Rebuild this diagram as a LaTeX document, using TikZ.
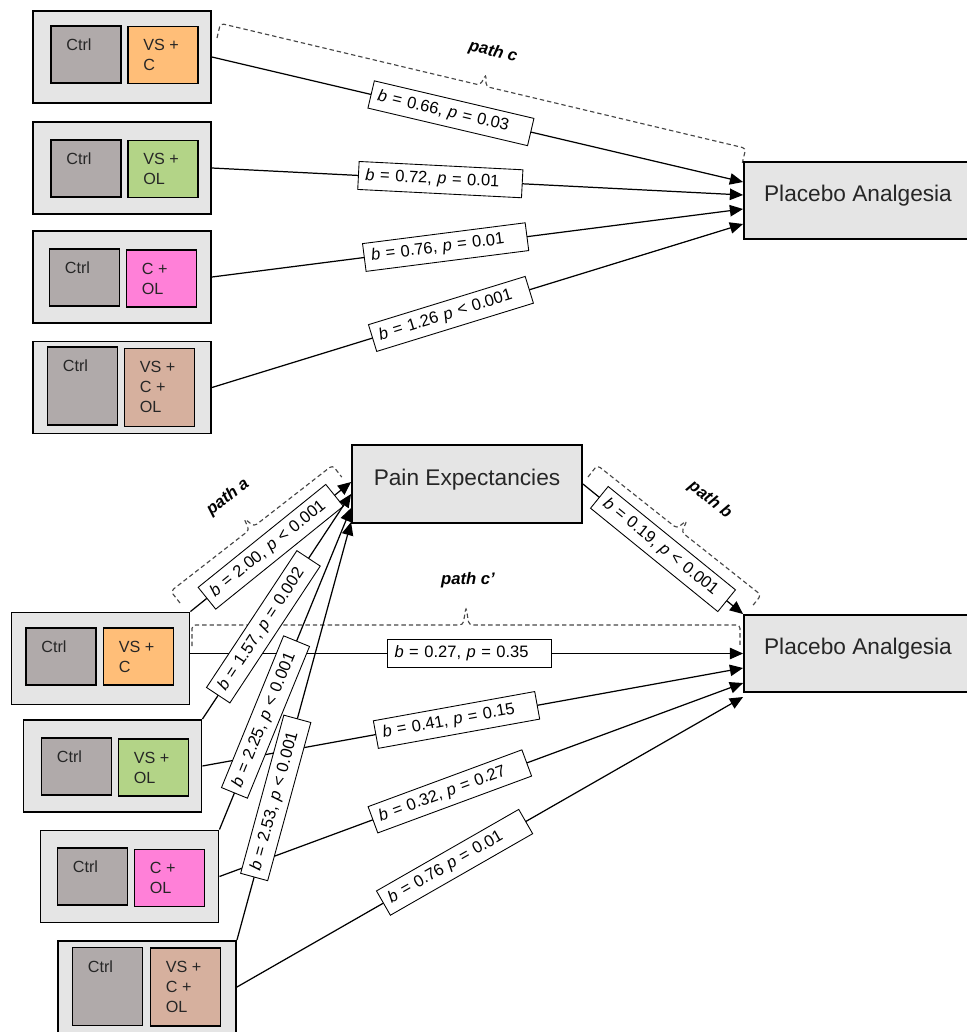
\documentclass[tikz,border=0pt]{standalone}
\usepackage{fontspec}
\setmainfont{Liberation Sans}
\usetikzlibrary{arrows.meta,calc}
\definecolor{boxgray}{RGB}{229,229,229}
\definecolor{ctrlgray}{RGB}{176,170,170}
\definecolor{vscorange}{RGB}{255,190,120}
\definecolor{vsolgreen}{RGB}{179,212,135}
\definecolor{colpink}{RGB}{255,128,216}
\definecolor{allbrown}{RGB}{214,176,158}
\definecolor{bracketgray}{RGB}{70,70,70}
\begin{document}
\begin{tikzpicture}[x=0.02cm, y=-0.02cm,
  group/.style={draw, line width=1.1pt, fill=boxgray, minimum width=3.56cm, minimum height=1.84cm, inner sep=0pt},
  cond/.style={draw, line width=1.1pt, minimum width=1.4cm, minimum height=1.14cm, inner sep=0pt},
  tall/.style={minimum height=1.56cm},
  condtext/.style={anchor=north west, align=left, inner sep=0pt, xshift=0.32cm, yshift=-0.27cm,
    font=\fontsize{9.2}{11.4}\selectfont, text=black!85},
  mainbox/.style={draw, line width=1.1pt, fill=boxgray, minimum width=4.56cm, minimum height=1.54cm,
    font=\fontsize{12.9}{15}\selectfont, text height=9.5pt, text depth=8pt, text=black!85},
  conn/.style={line width=0.7pt, -{Triangle[length=7.5pt, width=6.5pt]}},
  pv/.style={draw, line width=0.5pt, fill=white, sloped, text width=3.0cm, align=left, inner xsep=0.14cm,
    inner ysep=0pt, minimum height=0.56cm, font=\fontsize{9.4}{11}\selectfont},
  bracketline/.style={draw=bracketgray, line width=0.65pt, dash pattern=on 2.5pt off 1.7pt, rounded corners=2pt},
  pathlab/.style={font=\fontsize{9.5}{11}\selectfont\bfseries\itshape}]
\useasboundingbox (0,0) rectangle (967,1032);

% brackets
\draw[bracketline, shift={(217,38)}, rotate=-13.37] (0,0) -- (0,-15) -- (267,-15) -- (270,-27) -- (273,-15) -- (540,-15) -- (540,0);
\draw[bracketline, shift={(180,603)}, rotate=37.9] (0,0) -- (0,-15) -- (99.5,-15) -- (102.5,-28) -- (105.5,-15) -- (205,-15) -- (205,0);
\draw[bracketline, shift={(588,477)}, rotate=-38.4] (0,0) -- (0,-15) -- (101.5,-15) -- (104.5,-28) -- (107.5,-15) -- (209,-15) -- (209,0);
\draw[bracketline, shift={(192,646)}] (0,0) -- (0,-21) -- (271,-21) -- (274,-39) -- (277,-21) -- (548,-21) -- (548,0);
\node[pathlab, rotate=-13.4] (pc) at (493,52) {path c};
\node[pathlab, rotate=37.9] (pa) at (228,497) {path a};
\node[pathlab, rotate=-38.4] (pb) at (710,500) {path b};
\node[pathlab] (pcc) at (468,580) {path c’};

% total effect
\node[group] (g1) at (122,57) {};
\node[cond, fill=ctrlgray, label={[condtext]north west:Ctrl}] (g1c) at (86,54.5) {};
\node[cond, fill=vscorange, label={[condtext]north west:{VS +\\C}}] (g1v) at (163,55) {};
\node[group] (g2) at (122,168) {};
\node[cond, fill=ctrlgray, label={[condtext]north west:Ctrl}] (g2c) at (86,168.5) {};
\node[cond, fill=vsolgreen, label={[condtext]north west:{VS +\\OL}}] (g2v) at (163,169) {};
\node[group] (g3) at (122,277) {};
\node[cond, fill=ctrlgray, label={[condtext]north west:Ctrl}] (g3c) at (84.5,277.5) {};
\node[cond, fill=colpink, label={[condtext]north west:{C +\\OL}}] (g3v) at (161.5,278.5) {};
\node[group] (g4) at (122,387.5) {};
\node[cond, tall, fill=ctrlgray, label={[condtext]north west:Ctrl}] (g4c) at (82.5,386) {};
\node[cond, tall, fill=allbrown, label={[condtext]north west:{VS +\\C +\\OL}}] (g4v) at (159.5,387.5) {};
\node[mainbox] (pa1) at (858,200.5) {Placebo Analgesia};

\draw[conn] (g1.east) -- ($(pa1.west)+(0,-18.5)$) node[pv, pos=0.45] {\textit{b} = 0.66, \textit{p} = 0.03};
\draw[conn] (g2.east) -- ($(pa1.west)+(0,-5.5)$) node[pv, pos=0.43] {\textit{b} = 0.72, \textit{p} = 0.01};
\draw[conn] (g3.east) -- ($(pa1.west)+(0,8.5)$) node[pv, pos=0.44] {\textit{b} = 0.76, \textit{p} = 0.01};
\draw[conn] (g4.east) -- ($(pa1.west)+(0,23.5)$) node[pv, pos=0.45] {\textit{b} = 1.26 \textit{p} < 0.001};

% mediation
\node[group] (b1) at (100.5,658.5) {};
\node[cond, fill=ctrlgray, label={[condtext]north west:Ctrl}] (b1c) at (61,656.5) {};
\node[cond, fill=vscorange, label={[condtext]north west:{VS +\\C}}] (b1v) at (138.5,656.5) {};
\node[group] (b2) at (112.5,766) {};
\node[cond, fill=ctrlgray, label={[condtext]north west:Ctrl}] (b2c) at (76.5,766.5) {};
\node[cond, fill=vsolgreen, label={[condtext]north west:{VS +\\OL}}] (b2v) at (153.5,767.5) {};
\node[group] (b3) at (129.5,876.5) {};
\node[cond, fill=ctrlgray, label={[condtext]north west:Ctrl}] (b3c) at (92.5,876.5) {};
\node[cond, fill=colpink, label={[condtext]north west:{C +\\OL}}] (b3v) at (169.5,878) {};
\node[group] (b4) at (147,987) {};
\node[cond, tall, fill=ctrlgray, label={[condtext]north west:Ctrl}] (b4c) at (107.5,986.5) {};
\node[cond, tall, fill=allbrown, label={[condtext]north west:{VS +\\C +\\OL}}] (b4v) at (185.5,987) {};
\node[mainbox, minimum width=4.6cm, minimum height=1.56cm] (pe) at (467,484) {Pain Expectancies};
\node[mainbox] (pa2) at (858,653.5) {Placebo Analgesia};

\draw[conn] ($(b1.east)+(0,-5)$) -- (pa2.west) node[pv, pos=0.505] {\textit{b} = 0.27, \textit{p} = 0.35};
\draw[conn] (b2.east) -- ($(pa2.west)+(0,14.5)$) node[pv, pos=0.47] {\textit{b} = 0.41, \textit{p} = 0.15};
\draw[conn] (b3.east) -- ($(pa2.west)+(0,29.5)$) node[pv, pos=0.44] {\textit{b} = 0.32, \textit{p} = 0.27};
\draw[conn] (b4.east) -- ($(pa2.west)+(0,43.5)$) node[pv, pos=0.43] {\textit{b} = 0.76 \textit{p} = 0.01};

\draw[conn] (b1.north east) -- ($(pe.west)+(0,-2)$) node[pv, pos=0.5] {\textit{b} = 2.00, \textit{p} < 0.001};
\draw[conn] (b2.north east) -- ($(pe.west)+(0,10)$) node[pv, pos=0.41] {\textit{b} = 1.57, \textit{p} = 0.002};
\draw[conn] (b3.north east) -- ($(pe.west)+(0,24)$) node[pv, pos=0.35] {\textit{b} = 2.25, \textit{p} < 0.001};
\draw[conn] (b4.north east) -- ($(pe.west)+(0,38)$) node[pv, pos=0.34] {\textit{b} = 2.53, \textit{p} < 0.001};

\draw[conn] (pe.east) -- (pa2.north west) node[pv, pos=0.5] {\textit{b} = 0.19, \textit{p} < 0.001};
\end{tikzpicture}
\end{document}
